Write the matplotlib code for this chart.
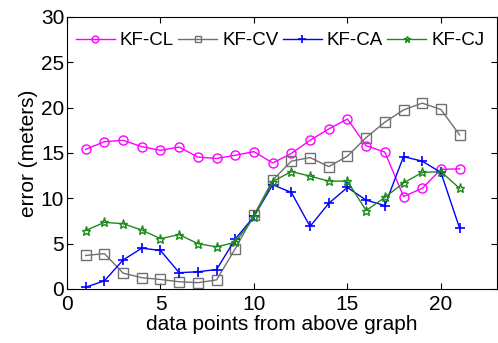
import matplotlib
matplotlib.use("Agg")
import matplotlib.pyplot as plt

x = list(range(1, 22))
kf_cl = [15.4, 16.25, 16.4, 15.7, 15.3, 15.65, 14.55, 14.4, 14.75, 15.15, 13.9,
         14.95, 16.4, 17.65, 18.75, 15.8, 15.1, 10.2, 11.1, 13.2, 13.25]
kf_cv = [3.7, 3.9, 1.75, 1.25, 1.05, 0.8, 0.7, 1.0, 4.45, 8.15, 12.0,
         14.1, 14.5, 13.5, 14.65, 16.7, 18.4, 19.75, 20.5, 19.8, 17.0]
kf_ca = [0.2, 0.9, 3.2, 4.5, 4.25, 1.8, 1.9, 2.15, 5.5, 8.0, 11.5,
         10.65, 6.9, 9.45, 11.2, 9.8, 9.2, 14.6, 14.1, 12.85, 6.7]
kf_cj = [6.45, 7.35, 7.2, 6.5, 5.55, 6.0, 5.0, 4.65, 5.15, 7.9, 11.85,
         12.95, 12.45, 11.9, 11.9, 8.65, 10.1, 11.7, 12.85, 12.95, 11.1]
labels = ["KF-CL", "KF-CV", "KF-CA", "KF-CJ"]
x_ticks = [0, 5, 10, 15, 20]
y_ticks = [0, 5, 10, 15, 20, 25, 30]

plt.rcParams['font.family'] = ['Liberation Sans', 'DejaVu Sans']
fig = plt.figure(figsize=(4.98, 3.43), dpi=100)
ax = fig.add_axes([67/498, 1-289/343, (497-67)/498, (289-17)/343])

ax.plot(x, kf_cl, color='#ff00ff', marker='o', ms=6.5, mfc='none', lw=1, mew=1, label=labels[0])
ax.plot(x, kf_cv, color='#707070', marker='s', ms=6.5, mfc='none', lw=1, mew=1, label=labels[1])
ax.plot(x, kf_ca, color='#0000ff', marker='+', ms=7.5, lw=1, mew=1.2, label=labels[2])
ax.plot(x, kf_cj, color='#1e8a1e', marker='*', ms=6.5, mfc='none', lw=1, mew=1, label=labels[3])

ax.set_xlim(0, 23)
ax.set_ylim(0, 30)
ax.set_xticks(x_ticks)
ax.set_yticks(y_ticks)
ax.tick_params(direction='in', top=True, right=True, labelsize=15, length=4, width=0.8, pad=2)
ax.tick_params(axis='x', pad=4)
for s in ax.spines.values():
    s.set_linewidth(0.8)
ax.set_xlabel("data points from above graph", fontsize=15, labelpad=1)
ax.set_ylabel("error (meters)", fontsize=15, labelpad=2)

ax.legend(loc='center left', bbox_to_anchor=(0.012, 0.912), ncol=4, frameon=False,
          fontsize=13.5, handlelength=2.08, handletextpad=0.27, columnspacing=0.22,
          borderaxespad=0.0, borderpad=0.2, markerscale=0.75)

fig.savefig("out.png", dpi=100)
